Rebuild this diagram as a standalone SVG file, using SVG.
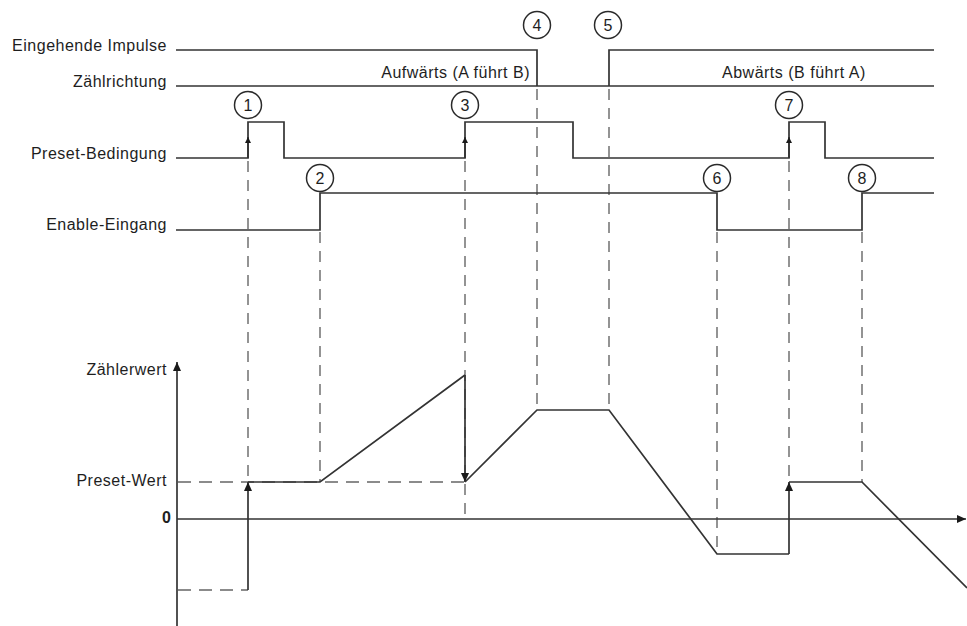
<svg xmlns="http://www.w3.org/2000/svg" width="967" height="626" viewBox="0 0 967 626">
<style>
text{font-family:"Liberation Sans",Arial,sans-serif;fill:#1e1e1e}
.lbl{font-size:16px;letter-spacing:0.5px;text-anchor:end}
.num{font-size:16px;text-anchor:middle}
.sig{fill:none;stroke:#333;stroke-width:1.7;stroke-linejoin:miter}
.dash{fill:none;stroke:#666;stroke-width:1.4;stroke-dasharray:11 8}
.circ{fill:#fff;stroke:#2a2a2a;stroke-width:1.5}
</style>
<defs>
<marker id="ah" markerWidth="10" markerHeight="10" refX="9" refY="4" orient="auto" markerUnits="userSpaceOnUse">
<path d="M0,0 L9,4 L0,8 Z" fill="#1a1a1a"/>
</marker>
<marker id="ahs" markerWidth="8" markerHeight="8" refX="6" refY="3" orient="auto" markerUnits="userSpaceOnUse">
<path d="M0,0 L6,3 L0,6 Z" fill="#1a1a1a"/>
</marker>
</defs>
<rect width="967" height="626" fill="#fff"/>
<g id="labels">
<text class="lbl" x="167" y="51">Eingehende Impulse</text>
<text class="lbl" x="167" y="87">Zählrichtung</text>
<text class="lbl" x="167" y="159">Preset-Bedingung</text>
<text class="lbl" x="167" y="230">Enable-Eingang</text>
<text class="lbl" x="167" y="375">Zählerwert</text>
<text class="lbl" x="167" y="486">Preset-Wert</text>
<text x="171" y="523" style="font-size:16px;font-weight:bold;text-anchor:end">0</text>
<text x="530" y="78" style="font-size:16px;letter-spacing:0.5px;text-anchor:end">Aufwärts (A führt B)</text>
<text x="722" y="78" style="font-size:16px;letter-spacing:0.5px">Abwärts (B führt A)</text>
</g>
<g id="connectors">
<line class="dash" x1="248" y1="161" x2="248" y2="482"/>
<line class="dash" x1="320" y1="232" x2="320" y2="482"/>
<line class="dash" x1="465" y1="161" x2="465" y2="519"/>
<line class="dash" x1="537" y1="89" x2="537" y2="410"/>
<line class="dash" x1="609" y1="89" x2="609" y2="410"/>
<line class="dash" x1="717" y1="232" x2="717" y2="554"/>
<line class="dash" x1="789" y1="161" x2="789" y2="482"/>
<line class="dash" x1="862" y1="232" x2="862" y2="482"/>
<line class="dash" x1="178" y1="482" x2="465" y2="482" style="stroke-dasharray:13 8"/>
<line class="dash" x1="178" y1="590" x2="248" y2="590" style="stroke-dasharray:13 8"/>
</g>
<g id="signals">
<path id="eingehende" class="sig" d="M176,50 H537 V86 M609,86 V50 H934"/>
<path id="zaehlrichtung" class="sig" d="M176,86 H934"/>
<path id="preset" class="sig" d="M176,158 H248 V122 H284 V158 H465 V122 H573 V158 H789 V122 H825 V158 H934"/>
<path id="enable" class="sig" d="M176,230 H320 V193 H717 V230 H862 V193 H934"/>
<line class="sig" x1="248" y1="158" x2="248" y2="137" marker-end="url(#ahs)"/>
<line class="sig" x1="465" y1="158" x2="465" y2="137" marker-end="url(#ahs)"/>
<line class="sig" x1="789" y1="158" x2="789" y2="137" marker-end="url(#ahs)"/>
</g>
<g id="axes">
<line class="sig" x1="177" y1="626" x2="177" y2="362" marker-end="url(#ah)"/>
<line class="sig" x1="177" y1="519" x2="966" y2="519" marker-end="url(#ah)"/>
</g>
<g id="counter">
<line class="sig" x1="248" y1="590" x2="248" y2="482" marker-end="url(#ah)"/>
<path class="sig" d="M248,482 H320 L465,375"/>
<line class="sig" x1="465" y1="375" x2="465" y2="482" marker-end="url(#ah)"/>
<path class="sig" d="M465,482 L537,410 H609 L717,554 H789"/>
<line class="sig" x1="789" y1="554" x2="789" y2="482" marker-end="url(#ah)"/>
<path class="sig" d="M789,482 H862 L967,588"/>
</g>
<g id="n1"><circle class="circ" cx="248" cy="105" r="13.5"/><text class="num" x="248" y="111">1</text></g>
<g id="n2"><circle class="circ" cx="320" cy="178" r="13.5"/><text class="num" x="320" y="184">2</text></g>
<g id="n3"><circle class="circ" cx="465" cy="105" r="13.5"/><text class="num" x="465" y="111">3</text></g>
<g id="n4"><circle class="circ" cx="537" cy="25" r="13.5"/><text class="num" x="537" y="31">4</text></g>
<g id="n5"><circle class="circ" cx="608" cy="25" r="13.5"/><text class="num" x="608" y="31">5</text></g>
<g id="n6"><circle class="circ" cx="717" cy="178" r="13.5"/><text class="num" x="717" y="184">6</text></g>
<g id="n7"><circle class="circ" cx="789" cy="105" r="13.5"/><text class="num" x="789" y="111">7</text></g>
<g id="n8"><circle class="circ" cx="862" cy="178" r="13.5"/><text class="num" x="862" y="184">8</text></g>
</svg>
